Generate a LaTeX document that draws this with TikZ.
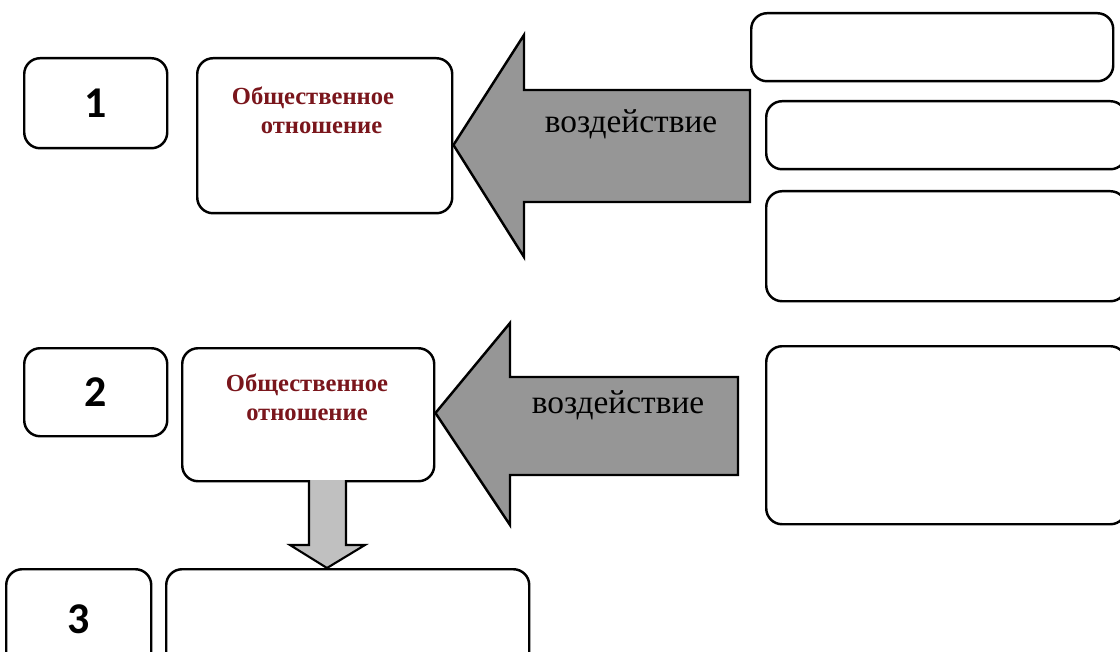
\documentclass[tikz,border=0pt]{standalone}
\usepackage{fontspec}
\setmainfont{Liberation Serif}
\newfontfamily\numfont{Carlito}

\definecolor{relred}{RGB}{122,22,28}
\definecolor{arrowgray}{RGB}{150,150,150}
\definecolor{downgray}{RGB}{192,192,192}

\tikzset{%
  every box/.style={
    draw,
    line width=1.4pt,
    rounded corners=9pt,
    anchor=north west,
    inner sep=0pt
  },
  box size/.style 2 args={
    minimum width=#1*0.02cm,
    minimum height=#2*0.02cm
  },
  num box/.style={
    every box,
    font=\numfont\bfseries\fontsize{25}{28}\selectfont
  },
  rel text/.style={
    font=\bfseries\fontsize{14}{16.5}\selectfont,
    text=relred,
    align=center
  },
  act text/.style={
    font=\fontsize{19}{22}\selectfont
  },
  block arrow/.style={
    draw,
    line width=1.4pt,
    line join=miter
  },
}

\begin{document}
\begin{tikzpicture}[x=0.02cm, y=-0.02cm]

\useasboundingbox (0,0) rectangle (1120,652);
\clip (0,0) rectangle (1120,652);

% left column
\node [num box, box size={143}{90}] (num-1) at (23,57) {1};
\node [num box, box size={143}{88}] (num-2) at (23,347) {2};
\node [num box, box size={145}{100}] (num-3) at (5,568) {3};

% relations
\node [every box, box size={255}{155}] (rel-1) at (196,57) {};
\node [every box, box size={252}{133}] (rel-2) at (181,347) {};
\node [every box, box size={363}{100}] (result) at (165,568) {};

\node [rel text] (rel-1-text) at (313,110) {Общественное\\\hspace{0.7em}отношение};
\node [rel text] (rel-2-text) at (307,397) {Общественное\\отношение};

% right column
\node [every box, box size={362}{68}] (src-1) at (750,12) {};
\node [every box, box size={360}{68}] (src-2) at (765,100) {};
\node [every box, box size={360}{110}] (src-3) at (765,190) {};
\node [every box, box size={360}{178}] (src-4) at (765,345) {};

% block arrows
\draw [block arrow, fill=arrowgray]
  (750,90) -- (524,90) -- (524,35) -- (rel-1.east |- 0,145) -- (524,257)
  -- (524,202) -- (750,202) -- cycle;
\node [act text] (act-1) at (631,124) {воздействие};

\draw [block arrow, fill=arrowgray]
  (738,377) -- (510,377) -- (510,323) -- (rel-2.east |- 0,413) -- (510,525)
  -- (510,475) -- (738,475) -- cycle;
\node [act text] (act-2) at (618,405) {воздействие};

\draw [block arrow, fill=downgray, line width=1.2pt]
  (309,480) -- (309,545) -- (290,545) -- (327,568) -- (365,545)
  -- (346,545) -- (346,480);

\end{tikzpicture}
\end{document}
